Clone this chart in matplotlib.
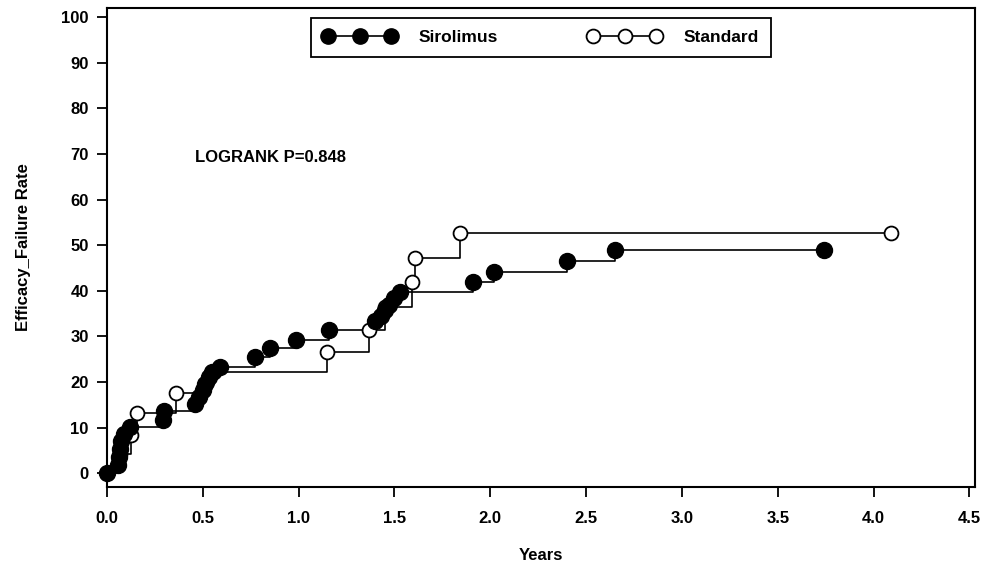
import matplotlib
matplotlib.use("Agg")
import matplotlib.pyplot as plt
from matplotlib.lines import Line2D

plt.rcParams['font.family'] = ['Liberation Sans Narrow', 'Liberation Sans', 'DejaVu Sans']
plt.rcParams['font.weight'] = 'bold'

# event times (years) and cumulative failure rate (%)
sirolimus_t = [0.0, 0.06, 0.065, 0.07, 0.075, 0.09, 0.12, 0.29, 0.30, 0.46, 0.48, 0.50,
               0.51, 0.53, 0.55, 0.59, 0.77, 0.85, 0.985, 1.16, 1.40, 1.43, 1.45, 1.47,
               1.50, 1.53, 1.91, 2.02, 2.40, 2.65, 3.74]
sirolimus_y = [0, 1.8, 3.6, 5.4, 7.2, 8.6, 10.2, 11.8, 13.6, 15.2, 16.7, 18.2,
               19.6, 21.1, 22.3, 23.4, 25.5, 27.4, 29.2, 31.4, 33.5, 34.6, 35.7, 37.0,
               38.5, 39.8, 42.0, 44.1, 46.5, 48.9, 48.9]

standard_t = [0.0, 0.07, 0.125, 0.155, 0.36, 0.52, 0.56, 1.15, 1.37, 1.45, 1.59, 1.61, 1.84, 4.09]
standard_y = [0, 4.3, 8.5, 13.2, 17.6, 20.0, 22.2, 26.6, 31.4, 36.5, 42.0, 47.1, 52.6, 52.6]

x_ticks = [0.0, 0.5, 1.0, 1.5, 2.0, 2.5, 3.0, 3.5, 4.0, 4.5]
y_ticks = [0, 10, 20, 30, 40, 50, 60, 70, 80, 90, 100]

fig = plt.figure(figsize=(9.81, 5.69), dpi=100)
ax = fig.add_axes([0.109, 0.144, 0.885, 0.842])

ax.step(sirolimus_t, sirolimus_y, where='post', color='black', lw=1.2, zorder=2)
ax.step(standard_t, standard_y, where='post', color='black', lw=1.2, zorder=2)
ax.plot(standard_t, standard_y, ls='none', marker='o', ms=10, mfc='white', mec='black',
        mew=1.3, zorder=3, clip_on=False)
ax.plot(sirolimus_t, sirolimus_y, ls='none', marker='o', ms=11.5, mfc='black', mec='black',
        zorder=4, clip_on=False)

ax.text(0.457, 69.3, 'LOGRANK P=0.848', fontsize=12, fontweight='bold', va='center', ha='left')

ax.set_xlim(0, 4.53)
ax.set_ylim(-3, 102)
ax.set_xticks(x_ticks)
ax.set_xticklabels([f'{v:.1f}' for v in x_ticks])
ax.set_yticks(y_ticks)
ax.tick_params(axis='both', length=7, width=1.3, labelsize=12, direction='out')
ax.tick_params(axis='x', pad=10)
ax.tick_params(axis='y', pad=6)
for s in ax.spines.values():
    s.set_linewidth(1.5)

ax.set_xlabel('Years', fontsize=12, fontweight='bold', labelpad=16)
ax.set_ylabel('Efficacy_Failure Rate', fontsize=12, fontweight='bold', labelpad=22)

handles = [
    Line2D([], [], color='black', lw=1.2, marker='o', ms=11, mfc='black', mec='black'),
    Line2D([], [], color='black', lw=1.2, marker='o', ms=10, mfc='white', mec='black', mew=1.3),
]
leg = ax.legend(handles, ['Sirolimus', 'Standard'], loc='upper center', ncol=2, numpoints=3,
                handlelength=4.2, columnspacing=5.2, fontsize=12.5, fancybox=False,
                edgecolor='black', framealpha=1, bbox_to_anchor=(0.5, 0.99),
                borderpad=0.7, borderaxespad=0.3, handletextpad=1.3)
leg.get_frame().set_linewidth(1.3)

fig.savefig('out.png', dpi=100)
